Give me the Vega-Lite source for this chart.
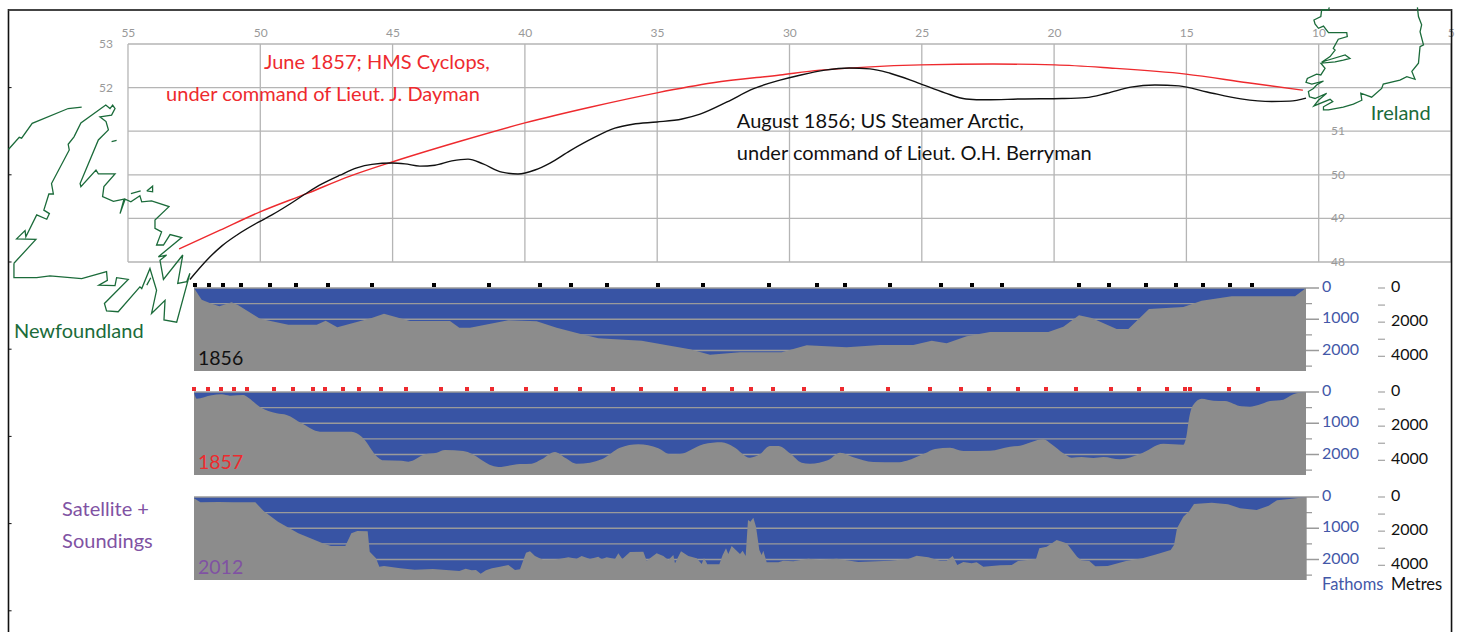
{
"$schema":"https://vega.github.io/schema/vega-lite/v6.json",
"width":1459,"height":632,"padding":0,"autosize":"none","background":"white",
"config":{"view":{"stroke":null},"axis":{"disable":true},"text":{"font":"Lato"}},
"datasets":{
"latGrid":[{"lat":53},{"lat":52},{"lat":51},{"lat":50},{"lat":49},{"lat":48}],
"lonGrid":[{"lon":55},{"lon":50},{"lon":45},{"lon":40},{"lon":35},{"lon":30},{"lon":25},{"lon":20},{"lon":15},{"lon":10},{"lon":5}],
"latLabels":[{"lat":53,"side":55.83},{"lat":52,"side":55.83},{"lat":51,"side":9.27},{"lat":50,"side":9.27},{"lat":49,"side":9.27},{"lat":48,"side":9.27}],
"frameTicks":[{"lat":52},{"lat":50},{"lat":48},{"lat":46},{"lat":44},{"lat":42},{"lat":40}],
"track1856":[{"lon":52.66,"lat":47.6},{"lon":51.98,"lat":48.07},{"lon":51.45,"lat":48.37},{"lon":50.88,"lat":48.62},{"lon":50.05,"lat":48.92},{"lon":49.56,"lat":49.08},{"lon":48.88,"lat":49.33},{"lon":48.2,"lat":49.6},{"lon":47.67,"lat":49.79},{"lon":46.99,"lat":49.99},{"lon":46.35,"lat":50.16},{"lon":45.78,"lat":50.24},{"lon":45.02,"lat":50.27},{"lon":44.53,"lat":50.25},{"lon":43.97,"lat":50.2},{"lon":43.4,"lat":50.22},{"lon":42.76,"lat":50.32},{"lon":42.15,"lat":50.36},{"lon":41.58,"lat":50.25},{"lon":40.87,"lat":50.06},{"lon":40.26,"lat":50.02},{"lon":39.62,"lat":50.11},{"lon":39.05,"lat":50.27},{"lon":38.3,"lat":50.55},{"lon":37.43,"lat":50.84},{"lon":36.6,"lat":51.07},{"lon":35.92,"lat":51.16},{"lon":35.01,"lat":51.21},{"lon":34.06,"lat":51.28},{"lon":33.38,"lat":51.39},{"lon":32.36,"lat":51.67},{"lon":31.38,"lat":51.97},{"lon":30.36,"lat":52.17},{"lon":29.57,"lat":52.29},{"lon":28.66,"lat":52.4},{"lon":27.75,"lat":52.45},{"lon":26.96,"lat":52.43},{"lon":26.2,"lat":52.33},{"lon":25.15,"lat":52.11},{"lon":24.13,"lat":51.88},{"lon":23.33,"lat":51.74},{"lon":22.54,"lat":51.72},{"lon":21.25,"lat":51.74},{"lon":19.7,"lat":51.75},{"lon":18.8,"lat":51.77},{"lon":18,"lat":51.87},{"lon":17.1,"lat":52.01},{"lon":16.19,"lat":52.06},{"lon":15.28,"lat":52.04},{"lon":14.22,"lat":51.9},{"lon":12.94,"lat":51.74},{"lon":11.77,"lat":51.68},{"lon":11.09,"lat":51.69},{"lon":10.48,"lat":51.76}],
"track1857":[{"lon":53.07,"lat":48.3},{"lon":51.52,"lat":48.73},{"lon":50.01,"lat":49.15},{"lon":48.2,"lat":49.58},{"lon":46.61,"lat":49.97},{"lon":44.99,"lat":50.3},{"lon":42.45,"lat":50.77},{"lon":40,"lat":51.19},{"lon":37.54,"lat":51.55},{"lon":35.01,"lat":51.88},{"lon":32.89,"lat":52.11},{"lon":30.36,"lat":52.29},{"lon":28.85,"lat":52.4},{"lon":27.11,"lat":52.47},{"lon":25.03,"lat":52.52},{"lon":22.31,"lat":52.54},{"lon":19.97,"lat":52.52},{"lon":17.89,"lat":52.45},{"lon":15.02,"lat":52.31},{"lon":12.68,"lat":52.11},{"lon":10.6,"lat":51.94}],
"coast":[
{"seg":"labrador","lon":59.52,"lat":50.58},{"seg":"labrador","lon":59.11,"lat":50.86},{"seg":"labrador","lon":59.02,"lat":50.84},{"seg":"labrador","lon":58.62,"lat":51.18},{"seg":"labrador","lon":57.26,"lat":51.52},{"seg":"labrador","lon":56.75,"lat":51.55},
{"seg":"isletA","lon":55.62,"lat":50.76},{"seg":"isletA","lon":55.43,"lat":50.79},
{"seg":"isletB","lon":54.89,"lat":49.57},{"seg":"isletB","lon":54.52,"lat":49.63},
{"seg":"isletC","lon":54.29,"lat":49.63},{"seg":"isletC","lon":54.07,"lat":49.74},{"seg":"isletC","lon":54.07,"lat":49.61},{"seg":"isletC","lon":54.29,"lat":49.63},
{"seg":"isletD","lon":54.29,"lat":47.47},{"seg":"isletD","lon":54.14,"lat":47.64},
{"seg":"nf","lon":59.31,"lat":47.97},{"seg":"nf","lon":59.31,"lat":47.64},{"seg":"nf","lon":58.45,"lat":47.64},{"seg":"nf","lon":57.95,"lat":47.68},{"seg":"nf","lon":56.75,"lat":47.62},{"seg":"nf","lon":55.81,"lat":47.78},{"seg":"nf","lon":55.78,"lat":47.58},{"seg":"nf","lon":56.1,"lat":47.47},{"seg":"nf","lon":55.49,"lat":47.46},{"seg":"nf","lon":55.43,"lat":47.64},{"seg":"nf","lon":54.99,"lat":47.6},{"seg":"nf","lon":55.89,"lat":47.05},{"seg":"nf","lon":55.81,"lat":46.88},{"seg":"nf","lon":55.37,"lat":46.86},{"seg":"nf","lon":54.55,"lat":47.43},{"seg":"nf","lon":54.48,"lat":47.39},{"seg":"nf","lon":54.17,"lat":47.85},{"seg":"nf","lon":53.92,"lat":47.35},{"seg":"nf","lon":54.11,"lat":46.82},{"seg":"nf","lon":53.6,"lat":47.12},{"seg":"nf","lon":53.64,"lat":46.67},{"seg":"nf","lon":53.16,"lat":46.62},{"seg":"nf","lon":52.66,"lat":47.74},{"seg":"nf","lon":52.78,"lat":47.55},{"seg":"nf","lon":53.12,"lat":47.51},{"seg":"nf","lon":52.93,"lat":48.16},{"seg":"nf","lon":53.66,"lat":47.6},{"seg":"nf","lon":53.79,"lat":48.04},{"seg":"nf","lon":53.54,"lat":48.16},{"seg":"nf","lon":53.85,"lat":48.12},{"seg":"nf","lon":52.97,"lat":48.56},{"seg":"nf","lon":53.41,"lat":48.63},{"seg":"nf","lon":53.66,"lat":48.39},{"seg":"nf","lon":53.92,"lat":48.39},{"seg":"nf","lon":53.73,"lat":48.69},{"seg":"nf","lon":53.98,"lat":48.77},{"seg":"nf","lon":53.98,"lat":48.96},{"seg":"nf","lon":53.45,"lat":49.27},{"seg":"nf","lon":54.11,"lat":49.4},{"seg":"nf","lon":54.48,"lat":49.38},{"seg":"nf","lon":54.55,"lat":49.52},{"seg":"nf","lon":54.89,"lat":49.38},{"seg":"nf","lon":55.11,"lat":49.44},{"seg":"nf","lon":55.3,"lat":49.11},{"seg":"nf","lon":55.15,"lat":49.44},{"seg":"nf","lon":55.55,"lat":49.39},{"seg":"nf","lon":55.96,"lat":49.5},{"seg":"nf","lon":55.91,"lat":49.73},{"seg":"nf","lon":55.49,"lat":50.02},{"seg":"nf","lon":56.12,"lat":50.02},{"seg":"nf","lon":56.21,"lat":50.11},{"seg":"nf","lon":56.78,"lat":49.73},{"seg":"nf","lon":56.81,"lat":49.8},{"seg":"nf","lon":56.12,"lat":50.8},{"seg":"nf","lon":55.74,"lat":51.03},{"seg":"nf","lon":55.83,"lat":51.22},{"seg":"nf","lon":56.06,"lat":51.33},{"seg":"nf","lon":55.62,"lat":51.37},{"seg":"nf","lon":55.49,"lat":51.52},{"seg":"nf","lon":55.58,"lat":51.6},{"seg":"nf","lon":55.68,"lat":51.52},{"seg":"nf","lon":55.84,"lat":51.6},{"seg":"nf","lon":56.78,"lat":51.19},{"seg":"nf","lon":57.04,"lat":50.87},{"seg":"nf","lon":57.26,"lat":50.7},{"seg":"nf","lon":57.22,"lat":50.57},{"seg":"nf","lon":57.89,"lat":49.8},{"seg":"nf","lon":57.82,"lat":49.56},{"seg":"nf","lon":57.99,"lat":49.56},{"seg":"nf","lon":58.18,"lat":49.19},{"seg":"nf","lon":57.97,"lat":49.11},{"seg":"nf","lon":58.07,"lat":48.98},{"seg":"nf","lon":58.45,"lat":49.08},{"seg":"nf","lon":58.86,"lat":48.58},{"seg":"nf","lon":58.89,"lat":48.72},{"seg":"nf","lon":59.21,"lat":48.53},{"seg":"nf","lon":58.48,"lat":48.52},{"seg":"nf","lon":59.31,"lat":47.97},
{"seg":"ie","lon":9.6,"lat":53.84},{"seg":"ie","lon":9.63,"lat":53.78},{"seg":"ie","lon":9.89,"lat":53.78},{"seg":"ie","lon":9.92,"lat":53.63},{"seg":"ie","lon":10.18,"lat":53.55},{"seg":"ie","lon":10.14,"lat":53.46},{"seg":"ie","lon":10.01,"lat":53.36},{"seg":"ie","lon":9.82,"lat":53.41},{"seg":"ie","lon":9.63,"lat":53.26},{"seg":"ie","lon":8.94,"lat":53.26},{"seg":"ie","lon":8.92,"lat":53.17},{"seg":"ie","lon":9.26,"lat":53.11},{"seg":"ie","lon":9.45,"lat":52.9},{"seg":"ie","lon":9.38,"lat":52.86},{"seg":"ie","lon":9.57,"lat":52.71},{"seg":"ie","lon":9.89,"lat":52.58},{"seg":"ie","lon":9.76,"lat":52.61},{"seg":"ie","lon":9,"lat":52.75},{"seg":"ie","lon":8.82,"lat":52.67},{"seg":"ie","lon":9.07,"lat":52.63},{"seg":"ie","lon":9.38,"lat":52.59},{"seg":"ie","lon":9.92,"lat":52.56},{"seg":"ie","lon":9.76,"lat":52.44},{"seg":"ie","lon":9.92,"lat":52.29},{"seg":"ie","lon":10.08,"lat":52.31},{"seg":"ie","lon":10.43,"lat":52.21},{"seg":"ie","lon":10.48,"lat":52.12},{"seg":"ie","lon":10.26,"lat":52.08},{"seg":"ie","lon":9.82,"lat":52.15},{"seg":"ie","lon":10.08,"lat":52.06},{"seg":"ie","lon":10.2,"lat":51.98},{"seg":"ie","lon":10.39,"lat":51.91},{"seg":"ie","lon":10.35,"lat":51.79},{"seg":"ie","lon":10.14,"lat":51.75},{"seg":"ie","lon":9.7,"lat":51.87},{"seg":"ie","lon":10.01,"lat":51.71},{"seg":"ie","lon":10.18,"lat":51.58},{"seg":"ie","lon":9.57,"lat":51.73},{"seg":"ie","lon":9.47,"lat":51.68},{"seg":"ie","lon":9.82,"lat":51.56},{"seg":"ie","lon":9.82,"lat":51.49},{"seg":"ie","lon":9.63,"lat":51.49},{"seg":"ie","lon":9.38,"lat":51.52},{"seg":"ie","lon":9.07,"lat":51.55},{"seg":"ie","lon":8.69,"lat":51.62},{"seg":"ie","lon":8.37,"lat":51.71},{"seg":"ie","lon":8.41,"lat":51.87},{"seg":"ie","lon":8,"lat":51.78},{"seg":"ie","lon":7.62,"lat":51.98},{"seg":"ie","lon":7.56,"lat":52.08},{"seg":"ie","lon":6.93,"lat":52.17},{"seg":"ie","lon":6.67,"lat":52.25},{"seg":"ie","lon":6.36,"lat":52.19},{"seg":"ie","lon":6.48,"lat":52.37},{"seg":"ie","lon":6.23,"lat":52.56},{"seg":"ie","lon":6.17,"lat":52.94},{"seg":"ie","lon":6.04,"lat":52.98},{"seg":"ie","lon":6.17,"lat":53.28},{"seg":"ie","lon":6.11,"lat":53.44},{"seg":"ie","lon":6.23,"lat":53.63},{"seg":"ie","lon":6.27,"lat":53.84}],
"mapText":[{"lon":49.86,"lat":52.59,"t":"June 1857; HMS Cyclops,","who":"1857"},{"lon":53.56,"lat":51.85,"t":"under command of Lieut. J. Dayman","who":"1857"},{"lon":31.99,"lat":51.23,"t":"August 1856; US Steamer Arctic,","who":"1856"},{"lon":31.99,"lat":50.5,"t":"under command of Lieut. O.H. Berryman","who":"1856"},{"lon":59.31,"lat":46.42,"t":"Newfoundland","who":"land"},{"lon":8.03,"lat":51.42,"t":"Ireland","who":"land"},{"lon":57.49,"lat":42.33,"t":"Satellite +","who":"2012"},{"lon":57.49,"lat":41.6,"t":"Soundings","who":"2012"}],
"fathomLines":[{"d":0,"to":1687.5},{"d":500,"to":1677},{"d":1000,"to":1687.5},{"d":1500,"to":1677},{"d":2000,"to":1687.5},{"d":2500,"to":1677}],
"fathomLabels":[{"d":0,"t":"0"},{"d":1000,"t":"1000"},{"d":2000,"t":"2000"}],
"metreTicks":[{"m":0},{"m":1000},{"m":2000},{"m":3000},{"m":4000}],
"metreLabels":[{"m":0,"t":"0"},{"m":2000,"t":"2000"},{"m":4000,"t":"4000"}],
"water":[{"from":0,"to":1668,"top":0,"bottom":2656}],
"s1856":[{"m":1.5},{"m":22.5},{"m":43.5},{"m":70.5},{"m":114},{"m":153},{"m":201},{"m":267},{"m":360},{"m":442.5},{"m":519},{"m":565.5},{"m":619.5},{"m":696},{"m":763.5},{"m":862.5},{"m":934.5},{"m":976.5},{"m":1044},{"m":1120.5},{"m":1167},{"m":1212},{"m":1327.5},{"m":1372.5},{"m":1428},{"m":1473},{"m":1513.5},{"m":1554},{"m":1587}],
"s1857":[{"m":0},{"m":21},{"m":40.5},{"m":60},{"m":79.5},{"m":120},{"m":148.5},{"m":178.5},{"m":196.5},{"m":223.5},{"m":247.5},{"m":280.5},{"m":318},{"m":370.5},{"m":409.5},{"m":447},{"m":498},{"m":543},{"m":579},{"m":628.5},{"m":670.5},{"m":723},{"m":765},{"m":807},{"m":835.5},{"m":868.5},{"m":915},{"m":972},{"m":1041},{"m":1104},{"m":1150.5},{"m":1192.5},{"m":1236},{"m":1278},{"m":1323},{"m":1375.5},{"m":1417.5},{"m":1459.5},{"m":1486.5},{"m":1494},{"m":1552.5},{"m":1596}],
"p1856":[{"m":0,"d":0},{"m":11.5,"d":373},{"m":26.5,"d":501},{"m":38,"d":587},{"m":56.5,"d":459},{"m":66.5,"d":555},{"m":99,"d":982},{"m":141.5,"d":1174},{"m":184,"d":1174},{"m":197.5,"d":1046},{"m":215,"d":1259},{"m":266.5,"d":960},{"m":285,"d":822},{"m":324,"d":1056},{"m":384,"d":1056},{"m":398,"d":1270},{"m":414,"d":1270},{"m":471.5,"d":1035},{"m":514,"d":1067},{"m":544,"d":1270},{"m":581.5,"d":1483},{"m":606.5,"d":1611},{"m":671.5,"d":1686},{"m":744,"d":1963},{"m":774,"d":2134},{"m":819,"d":2059},{"m":881.5,"d":2059},{"m":919,"d":1835},{"m":979,"d":1899},{"m":1029,"d":1825},{"m":1079,"d":1825},{"m":1106.5,"d":1686},{"m":1129,"d":1771},{"m":1159,"d":1547},{"m":1194,"d":1408},{"m":1281.5,"d":1408},{"m":1304,"d":1238},{"m":1327.5,"d":875},{"m":1346.5,"d":960},{"m":1384,"d":1312},{"m":1401.5,"d":1312},{"m":1432.5,"d":672},{"m":1484,"d":608},{"m":1511.5,"d":405},{"m":1556.5,"d":267},{"m":1651.5,"d":267},{"m":1668,"d":0}],
"p1857":[{"m":0,"d":10},{"m":4,"d":213},{"m":26.5,"d":107},{"m":41.5,"d":75},{"m":54,"d":117},{"m":74,"d":96},{"m":81.5,"d":181},{"m":99,"d":480},{"m":124,"d":683},{"m":139,"d":736},{"m":161.5,"d":1003},{"m":189,"d":1270},{"m":236.5,"d":1270},{"m":251.5,"d":1430},{"m":276.5,"d":2102},{"m":284,"d":2187},{"m":311.5,"d":2198},{"m":321.5,"d":2230},{"m":346.5,"d":1995},{"m":364,"d":1942},{"m":376.5,"d":1857},{"m":404,"d":1889},{"m":456.5,"d":2400},{"m":489,"d":2304},{"m":506.5,"d":2294},{"m":521.5,"d":2155},{"m":541.5,"d":1921},{"m":556.5,"d":2102},{"m":574,"d":2294},{"m":594,"d":2262},{"m":611.5,"d":2155},{"m":639,"d":1782},{"m":666.5,"d":1675},{"m":696.5,"d":1803},{"m":714,"d":1995},{"m":729,"d":1985},{"m":764,"d":1675},{"m":791.5,"d":1611},{"m":809,"d":1750},{"m":834,"d":2102},{"m":849,"d":1985},{"m":864,"d":1729},{"m":876.5,"d":1729},{"m":894,"d":1963},{"m":911.5,"d":2262},{"m":924,"d":2294},{"m":951.5,"d":2177},{"m":969,"d":1942},{"m":989,"d":2091},{"m":1019,"d":2241},{"m":1054,"d":2251},{"m":1069,"d":2198},{"m":1096.5,"d":1963},{"m":1111.5,"d":1825},{"m":1134,"d":1782},{"m":1154,"d":1889},{"m":1194,"d":1878},{"m":1224,"d":1750},{"m":1239,"d":1718},{"m":1274,"d":1515},{"m":1286.5,"d":1675},{"m":1304,"d":1963},{"m":1316.5,"d":2102},{"m":1331.5,"d":2081},{"m":1349,"d":2113},{"m":1364,"d":2081},{"m":1389,"d":2155},{"m":1419,"d":1985},{"m":1454,"d":1654},{"m":1484,"d":1686},{"m":1488,"d":1483},{"m":1493,"d":790},{"m":1498,"d":437},{"m":1511.5,"d":213},{"m":1529,"d":277},{"m":1546.5,"d":288},{"m":1571.5,"d":459},{"m":1584,"d":469},{"m":1596.5,"d":416},{"m":1614,"d":288},{"m":1634,"d":245},{"m":1649,"d":75},{"m":1668,"d":0}],
"p2012":[{"m":0,"d":43},{"m":9.6,"d":171},{"m":37,"d":160},{"m":58.6,"d":171},{"m":92,"d":171},{"m":104.5,"d":448},{"m":126,"d":790},{"m":156.5,"d":1163},{"m":193,"d":1483},{"m":205.5,"d":1568},{"m":227,"d":1568},{"m":236,"d":1163},{"m":245,"d":1088},{"m":260.5,"d":1099},{"m":263.6,"d":1750},{"m":273,"d":1963},{"m":278,"d":2230},{"m":285,"d":2209},{"m":309.5,"d":2283},{"m":331,"d":2326},{"m":358.5,"d":2304},{"m":398,"d":2369},{"m":407.5,"d":2294},{"m":416.6,"d":2347},{"m":423,"d":2336},{"m":430,"d":2454},{"m":438,"d":2347},{"m":447,"d":2283},{"m":459,"d":2230},{"m":471.5,"d":2176},{"m":481.5,"d":2336},{"m":489,"d":2315},{"m":498,"d":1781},{"m":504,"d":1739},{"m":511.5,"d":1888},{"m":524,"d":2016},{"m":541.5,"d":2006},{"m":561.5,"d":1931},{"m":574,"d":1974},{"m":581.5,"d":1888},{"m":594,"d":1984},{"m":606.5,"d":1909},{"m":611.5,"d":1995},{"m":619,"d":1931},{"m":631.5,"d":1984},{"m":636.5,"d":1803},{"m":642.5,"d":1984},{"m":654,"d":1760},{"m":674,"d":1749},{"m":679,"d":2038},{"m":694,"d":1803},{"m":704,"d":1888},{"m":711.5,"d":2016},{"m":719,"d":1856},{"m":721.5,"d":2123},{"m":730.5,"d":1739},{"m":741.5,"d":1888},{"m":754,"d":1963},{"m":761.5,"d":2144},{"m":765,"d":1952},{"m":770,"d":2155},{"m":788,"d":2155},{"m":793,"d":1856},{"m":798,"d":1643},{"m":801.5,"d":1824},{"m":806.5,"d":1568},{"m":819,"d":1824},{"m":823,"d":1717},{"m":827.5,"d":1888},{"m":831,"d":736},{"m":834.6,"d":790},{"m":839,"d":662},{"m":843,"d":950},{"m":848,"d":1697},{"m":851.5,"d":1856},{"m":854,"d":1717},{"m":859,"d":2091},{"m":876.5,"d":2091},{"m":884,"d":2038},{"m":899,"d":2059},{"m":921.5,"d":1974},{"m":939,"d":2016},{"m":964,"d":1974},{"m":984,"d":2038},{"m":996.5,"d":2080},{"m":1044,"d":2038},{"m":1071.5,"d":1984},{"m":1084,"d":1877},{"m":1101.5,"d":1931},{"m":1119,"d":2038},{"m":1129,"d":2038},{"m":1138,"d":1888},{"m":1145,"d":2176},{"m":1154,"d":2080},{"m":1166.5,"d":2123},{"m":1174,"d":2091},{"m":1184,"d":2230},{"m":1209,"d":2187},{"m":1226.6,"d":2177},{"m":1236,"d":2049},{"m":1263,"d":1985},{"m":1268,"d":1643},{"m":1279,"d":1590},{"m":1294,"d":1376},{"m":1309,"d":1483},{"m":1324.6,"d":1910},{"m":1331,"d":2027},{"m":1343,"d":2049},{"m":1352,"d":2219},{"m":1370.5,"d":2209},{"m":1398,"d":2049},{"m":1422.5,"d":1963},{"m":1444,"d":1835},{"m":1465,"d":1697},{"m":1470,"d":1536},{"m":1474.5,"d":1003},{"m":1484,"d":630},{"m":1493,"d":448},{"m":1500,"d":224},{"m":1526.5,"d":181},{"m":1551,"d":235},{"m":1569,"d":363},{"m":1594,"d":416},{"m":1612,"d":277},{"m":1624.5,"d":107},{"m":1643,"d":64},{"m":1669,"d":0}]
},
"layer":[
{"data":{"name":"latGrid"},"mark":{"type":"rule","color":"#b5b5b5","strokeWidth":1.3},"transform":[{"calculate":"55","as":"a"},{"calculate":"5","as":"b"}],"encoding":{"x":{"field":"a","type":"quantitative","scale":{"domain":[59.837,4.698]}},"x2":{"field":"b"},"y":{"field":"lat","type":"quantitative","scale":{"domain":[39.514,54.009]}}}},
{"data":{"name":"lonGrid"},"mark":{"type":"rule","color":"#b5b5b5","strokeWidth":1.3},"transform":[{"calculate":"53","as":"a"},{"calculate":"48","as":"b"}],"encoding":{"x":{"field":"lon","type":"quantitative","scale":{"domain":[59.837,4.698]}},"y":{"field":"a","type":"quantitative","scale":{"domain":[39.514,54.009]}},"y2":{"field":"b"}}},
{"data":{"name":"lonGrid"},"mark":{"type":"text","color":"#999999","fontSize":12,"dy":-11},"encoding":{"x":{"field":"lon","type":"quantitative","scale":{"domain":[59.85,4.71]}},"y":{"datum":53,"type":"quantitative","scale":{"domain":[39.514,54.009]}},"text":{"field":"lon","type":"quantitative"}}},
{"data":{"name":"latLabels"},"mark":{"type":"text","color":"#999999","fontSize":12},"encoding":{"x":{"field":"side","type":"quantitative","scale":{"domain":[59.837,4.698]}},"y":{"field":"lat","type":"quantitative","scale":{"domain":[39.514,54.009]}},"text":{"field":"lat","type":"quantitative"}}},
{"data":{"values":[{"a":59.516,"b":59.516,"c":53.8,"e":39.514},{"a":4.98,"b":4.98,"c":53.8,"e":39.514}]},"mark":{"type":"rule","color":"#111111","strokeWidth":1.6},"encoding":{"x":{"field":"a","type":"quantitative","scale":{"domain":[59.837,4.698]}},"y":{"field":"c","type":"quantitative","scale":{"domain":[39.514,54.009]}},"y2":{"field":"e"}}},
{"data":{"values":[{"a":59.516,"b":4.98,"c":53.78}]},"mark":{"type":"rule","color":"#444444","strokeWidth":2},"encoding":{"x":{"field":"a","type":"quantitative","scale":{"domain":[59.837,4.698]}},"x2":{"field":"b"},"y":{"field":"c","type":"quantitative","scale":{"domain":[39.514,54.009]}}}},
{"data":{"name":"frameTicks"},"mark":{"type":"rule","color":"#111111","strokeWidth":1},"transform":[{"calculate":"59.516","as":"a"},{"calculate":"59.4","as":"b"}],"encoding":{"x":{"field":"a","type":"quantitative","scale":{"domain":[59.837,4.698]}},"x2":{"field":"b"},"y":{"field":"lat","type":"quantitative","scale":{"domain":[39.514,54.009]}}}},
{"data":{"name":"track1857"},"transform":[{"window":[{"op":"row_number","as":"i"}]}],"mark":{"type":"line","color":"#ee2a2e","strokeWidth":1.4,"interpolate":"monotone"},"encoding":{"x":{"field":"lon","type":"quantitative","scale":{"domain":[59.837,4.698]}},"y":{"field":"lat","type":"quantitative","scale":{"domain":[39.514,54.009]}},"order":{"field":"i","type":"quantitative"}}},
{"data":{"name":"track1856"},"transform":[{"window":[{"op":"row_number","as":"i"}]}],"mark":{"type":"line","color":"#111111","strokeWidth":1.4,"interpolate":"monotone"},"encoding":{"x":{"field":"lon","type":"quantitative","scale":{"domain":[59.837,4.698]}},"y":{"field":"lat","type":"quantitative","scale":{"domain":[39.514,54.009]}},"order":{"field":"i","type":"quantitative"}}},
{"data":{"name":"coast"},"transform":[{"window":[{"op":"row_number","as":"i"}]}],"mark":{"type":"line","color":"#1b6b3a","strokeWidth":1.3},"encoding":{"x":{"field":"lon","type":"quantitative","scale":{"domain":[59.837,4.698]}},"y":{"field":"lat","type":"quantitative","scale":{"domain":[39.514,54.009]}},"detail":{"field":"seg"},"order":{"field":"i","type":"quantitative"}}},
{"data":{"name":"mapText"},"mark":{"type":"text","align":"left","fontSize":20,"dy":1},"encoding":{"x":{"field":"lon","type":"quantitative","scale":{"domain":[59.837,4.698]}},"y":{"field":"lat","type":"quantitative","scale":{"domain":[39.514,54.009]}},"text":{"field":"t"},"color":{"field":"who","type":"nominal","legend":null,"scale":{"domain":["1856","1857","2012","land"],"range":["#111111","#ee2a2e","#8052a3","#1b6b3a"]}}}},

{"data":{"name":"water"},"mark":{"type":"rect","color":"#3854a4"},"encoding":{"x":{"field":"from","type":"quantitative","scale":{"domain":[-291,1897.5]}},"x2":{"field":"to"},"y":{"field":"top","type":"quantitative","scale":{"domain":[0,2656],"range":[288,371]}},"y2":{"field":"bottom"}}},
{"data":{"name":"fathomLines"},"transform":[{"calculate":"0","as":"from"}],"mark":{"type":"rule","color":"#9a9a9a","strokeWidth":1.4},"encoding":{"x":{"field":"from","type":"quantitative","scale":{"domain":[-291,1897.5]}},"x2":{"field":"to"},"y":{"field":"d","type":"quantitative","scale":{"domain":[0,2656],"range":[288,371]}}}},
{"data":{"name":"p1856"},"mark":{"type":"area","color":"#8c8c8c","orient":"vertical"},"encoding":{"x":{"field":"m","type":"quantitative","scale":{"domain":[-291,1897.5]}},"y":{"field":"d","type":"quantitative","scale":{"domain":[0,2656],"range":[288,371]}},"y2":{"datum":2656}}},
{"data":{"name":"s1856"},"mark":{"type":"square","color":"#000000","size":16,"opacity":1},"encoding":{"x":{"field":"m","type":"quantitative","scale":{"domain":[-291,1897.5]}},"y":{"datum":-96,"type":"quantitative","scale":{"domain":[0,2656],"range":[288,371]}}}},
{"data":{"name":"fathomLabels"},"transform":[{"calculate":"1692","as":"x"}],"mark":{"type":"text","align":"left","color":"#4358a8","fontSize":16,"dy":-1},"encoding":{"x":{"field":"x","type":"quantitative","scale":{"domain":[-291,1897.5]}},"y":{"field":"d","type":"quantitative","scale":{"domain":[0,2656],"range":[288,371]}},"text":{"field":"t"}}},
{"data":{"name":"metreTicks"},"transform":[{"calculate":"1776","as":"a"},{"calculate":"1786.5","as":"b"}],"mark":{"type":"rule","color":"#aaaaaa","strokeWidth":1.3},"encoding":{"x":{"field":"a","type":"quantitative","scale":{"domain":[-291,1897.5]}},"x2":{"field":"b"},"y":{"field":"m","type":"quantitative","scale":{"domain":[0,4858],"range":[288,371]}}}},
{"data":{"name":"metreLabels"},"transform":[{"calculate":"1795.5","as":"x"}],"mark":{"type":"text","align":"left","color":"#111111","fontSize":16,"dy":-1},"encoding":{"x":{"field":"x","type":"quantitative","scale":{"domain":[-291,1897.5]}},"y":{"field":"m","type":"quantitative","scale":{"domain":[0,4858],"range":[288,371]}},"text":{"field":"t"}}},
{"data":{"values":[{"m":6,"d":2240,"t":"1856"}]},"mark":{"type":"text","align":"left","color":"#111111","fontSize":19.5,"dy":1},"encoding":{"x":{"field":"m","type":"quantitative","scale":{"domain":[-291,1897.5]}},"y":{"field":"d","type":"quantitative","scale":{"domain":[0,2656],"range":[288,371]}},"text":{"field":"t"}}},

{"data":{"name":"water"},"mark":{"type":"rect","color":"#3854a4"},"encoding":{"x":{"field":"from","type":"quantitative","scale":{"domain":[-291,1897.5]}},"x2":{"field":"to"},"y":{"field":"top","type":"quantitative","scale":{"domain":[0,2656],"range":[392,475]}},"y2":{"field":"bottom"}}},
{"data":{"name":"fathomLines"},"transform":[{"calculate":"0","as":"from"}],"mark":{"type":"rule","color":"#9a9a9a","strokeWidth":1.4},"encoding":{"x":{"field":"from","type":"quantitative","scale":{"domain":[-291,1897.5]}},"x2":{"field":"to"},"y":{"field":"d","type":"quantitative","scale":{"domain":[0,2656],"range":[392,475]}}}},
{"data":{"name":"p1857"},"mark":{"type":"area","color":"#8c8c8c","orient":"vertical","interpolate":"monotone"},"encoding":{"x":{"field":"m","type":"quantitative","scale":{"domain":[-291,1897.5]}},"y":{"field":"d","type":"quantitative","scale":{"domain":[0,2656],"range":[392,475]}},"y2":{"datum":2656}}},
{"data":{"name":"s1857"},"mark":{"type":"square","color":"#ee2a2e","size":16,"opacity":1},"encoding":{"x":{"field":"m","type":"quantitative","scale":{"domain":[-291,1897.5]}},"y":{"datum":-96,"type":"quantitative","scale":{"domain":[0,2656],"range":[392,475]}}}},
{"data":{"name":"fathomLabels"},"transform":[{"calculate":"1692","as":"x"}],"mark":{"type":"text","align":"left","color":"#4358a8","fontSize":16,"dy":-1},"encoding":{"x":{"field":"x","type":"quantitative","scale":{"domain":[-291,1897.5]}},"y":{"field":"d","type":"quantitative","scale":{"domain":[0,2656],"range":[392,475]}},"text":{"field":"t"}}},
{"data":{"name":"metreTicks"},"transform":[{"calculate":"1776","as":"a"},{"calculate":"1786.5","as":"b"}],"mark":{"type":"rule","color":"#aaaaaa","strokeWidth":1.3},"encoding":{"x":{"field":"a","type":"quantitative","scale":{"domain":[-291,1897.5]}},"x2":{"field":"b"},"y":{"field":"m","type":"quantitative","scale":{"domain":[0,4858],"range":[392,475]}}}},
{"data":{"name":"metreLabels"},"transform":[{"calculate":"1795.5","as":"x"}],"mark":{"type":"text","align":"left","color":"#111111","fontSize":16,"dy":-1},"encoding":{"x":{"field":"x","type":"quantitative","scale":{"domain":[-291,1897.5]}},"y":{"field":"m","type":"quantitative","scale":{"domain":[0,4858],"range":[392,475]}},"text":{"field":"t"}}},
{"data":{"values":[{"m":6,"d":2240,"t":"1857"}]},"mark":{"type":"text","align":"left","color":"#ee2a2e","fontSize":19.5,"dy":1},"encoding":{"x":{"field":"m","type":"quantitative","scale":{"domain":[-291,1897.5]}},"y":{"field":"d","type":"quantitative","scale":{"domain":[0,2656],"range":[392,475]}},"text":{"field":"t"}}},

{"data":{"name":"water"},"mark":{"type":"rect","color":"#3854a4"},"encoding":{"x":{"field":"from","type":"quantitative","scale":{"domain":[-291,1897.5]}},"x2":{"field":"to"},"y":{"field":"top","type":"quantitative","scale":{"domain":[0,2656],"range":[497,580]}},"y2":{"field":"bottom"}}},
{"data":{"name":"fathomLines"},"transform":[{"calculate":"0","as":"from"}],"mark":{"type":"rule","color":"#9a9a9a","strokeWidth":1.4},"encoding":{"x":{"field":"from","type":"quantitative","scale":{"domain":[-291,1897.5]}},"x2":{"field":"to"},"y":{"field":"d","type":"quantitative","scale":{"domain":[0,2656],"range":[497,580]}}}},
{"data":{"name":"p2012"},"mark":{"type":"area","color":"#8c8c8c","orient":"vertical"},"encoding":{"x":{"field":"m","type":"quantitative","scale":{"domain":[-291,1897.5]}},"y":{"field":"d","type":"quantitative","scale":{"domain":[0,2656],"range":[497,580]}},"y2":{"datum":2656}}},
{"data":{"name":"fathomLabels"},"transform":[{"calculate":"1692","as":"x"}],"mark":{"type":"text","align":"left","color":"#4358a8","fontSize":16,"dy":-1},"encoding":{"x":{"field":"x","type":"quantitative","scale":{"domain":[-291,1897.5]}},"y":{"field":"d","type":"quantitative","scale":{"domain":[0,2656],"range":[497,580]}},"text":{"field":"t"}}},
{"data":{"name":"metreTicks"},"transform":[{"calculate":"1776","as":"a"},{"calculate":"1786.5","as":"b"}],"mark":{"type":"rule","color":"#aaaaaa","strokeWidth":1.3},"encoding":{"x":{"field":"a","type":"quantitative","scale":{"domain":[-291,1897.5]}},"x2":{"field":"b"},"y":{"field":"m","type":"quantitative","scale":{"domain":[0,4858],"range":[497,580]}}}},
{"data":{"name":"metreLabels"},"transform":[{"calculate":"1795.5","as":"x"}],"mark":{"type":"text","align":"left","color":"#111111","fontSize":16,"dy":-1},"encoding":{"x":{"field":"x","type":"quantitative","scale":{"domain":[-291,1897.5]}},"y":{"field":"m","type":"quantitative","scale":{"domain":[0,4858],"range":[497,580]}},"text":{"field":"t"}}},
{"data":{"values":[{"m":6,"d":2240,"t":"2012"}]},"mark":{"type":"text","align":"left","color":"#8052a3","fontSize":19.5,"dy":1},"encoding":{"x":{"field":"m","type":"quantitative","scale":{"domain":[-291,1897.5]}},"y":{"field":"d","type":"quantitative","scale":{"domain":[0,2656],"range":[497,580]}},"text":{"field":"t"}}},
{"data":{"values":[{"m":1692,"d":2784,"t":"Fathoms"}]},"mark":{"type":"text","align":"left","color":"#4358a8","fontSize":16.5,"dy":1},"encoding":{"x":{"field":"m","type":"quantitative","scale":{"domain":[-291,1897.5]}},"y":{"field":"d","type":"quantitative","scale":{"domain":[0,2656],"range":[497,580]}},"text":{"field":"t"}}},
{"data":{"values":[{"m":1795.5,"d":2784,"t":"Metres"}]},"mark":{"type":"text","align":"left","color":"#111111","fontSize":16.5,"dy":1},"encoding":{"x":{"field":"m","type":"quantitative","scale":{"domain":[-291,1897.5]}},"y":{"field":"d","type":"quantitative","scale":{"domain":[0,2656],"range":[497,580]}},"text":{"field":"t"}}}
],
"resolve":{"scale":{"x":"independent","y":"independent"}}
}
